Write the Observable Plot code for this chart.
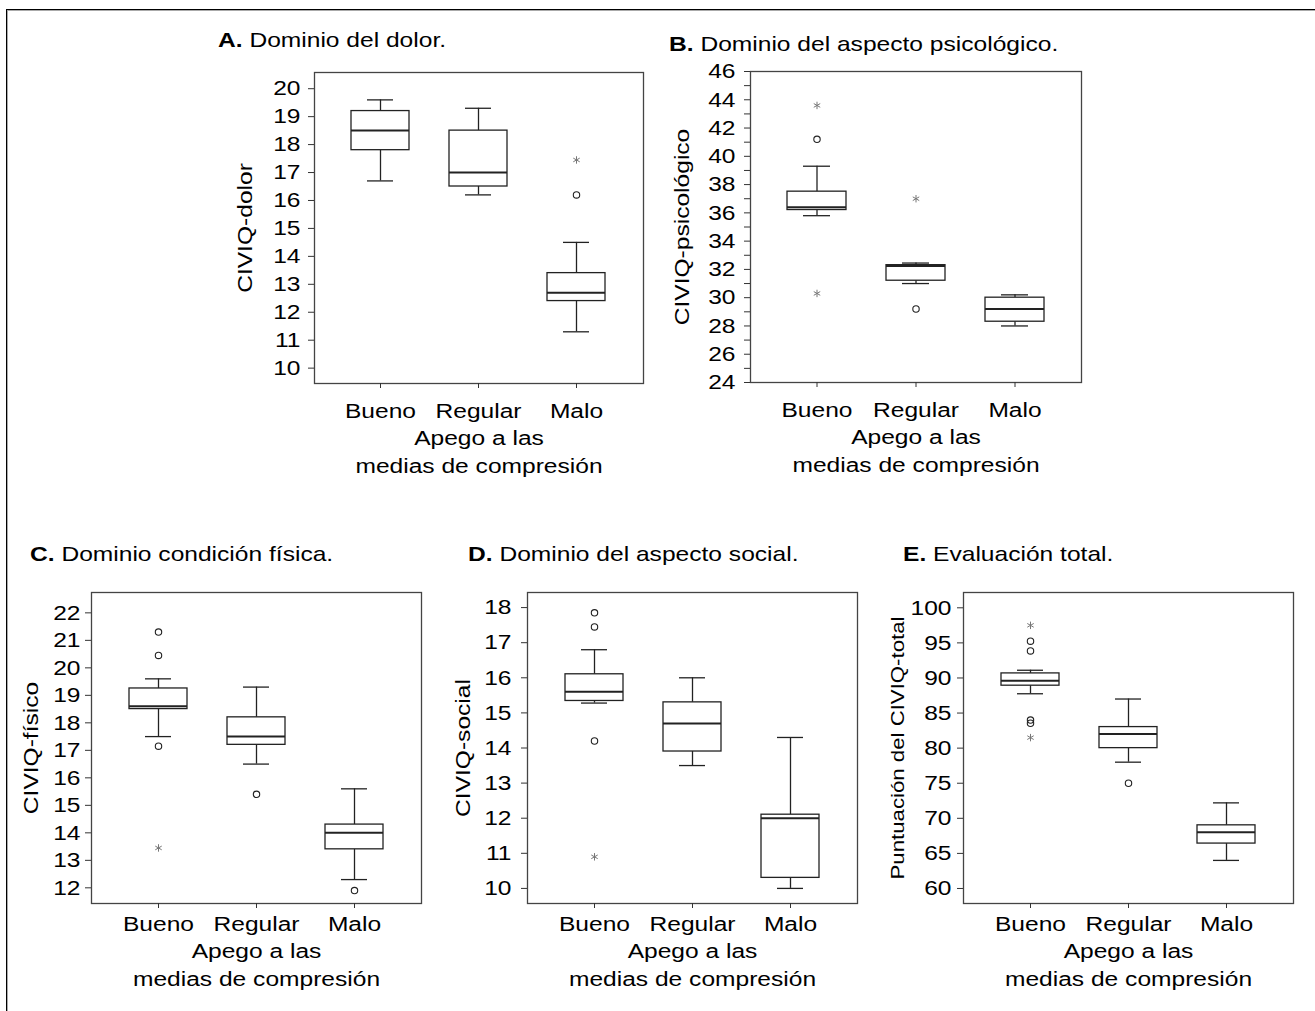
<!DOCTYPE html>
<html><head><meta charset="utf-8">
<script src="https://cdn.jsdelivr.net/npm/d3@7"></script>
<script src="https://cdn.jsdelivr.net/npm/@observablehq/plot@0.6"></script>
<style>
body{margin:0;background:#fff;}
#root{position:relative;width:1315px;height:1011px;overflow:hidden;font-family:"Liberation Sans",Arial,sans-serif;color:#000;background:#fff;}
.title{position:absolute;font-size:21px;line-height:21px;white-space:nowrap;transform:scaleX(1.17);transform-origin:0 0;}
.panel{position:absolute;}
#border{position:absolute;left:6px;top:9px;width:1400px;height:1100px;border-top:1.4px solid #000;border-left:1.4px solid #000;box-shadow:inset 1px 1px 0 #aaa;}
</style></head><body><div id="root"><div id="border"></div></div>
<script>
const categories = ["Bueno", "Regular", "Malo"];
// per category: [whisker low, Q1, median, Q3, whisker high]
const dolorStats = [[16.7, 17.8, 18.5, 19.2, 19.6], [16.2, 16.5, 17.0, 18.5, 19.3], [11.3, 12.4, 12.7, 13.4, 14.5]];
const dolorCircles = [["Malo", 16.2]];
const dolorStars = [["Malo", 17.45]];

const psicoStats = [[35.8, 36.2, 36.4, 37.5, 39.3], [31.0, 31.2, 32.25, 32.3, 32.45], [28.0, 28.3, 29.2, 30.0, 30.2]];
const psicoCircles = [["Bueno", 41.2], ["Regular", 29.2]];
const psicoStars = [["Bueno", 43.6], ["Bueno", 30.3], ["Regular", 37.0]];

const fisicoStats = [[17.5, 18.5, 18.6, 19.25, 19.6], [16.5, 17.2, 17.5, 18.2, 19.3], [12.3, 13.4, 14.0, 14.3, 15.6]];
const fisicoCircles = [["Bueno", 21.3], ["Bueno", 20.45], ["Bueno", 17.15], ["Regular", 15.4], ["Malo", 11.9]];
const fisicoStars = [["Bueno", 13.45]];

const socialStats = [[15.28, 15.34, 15.6, 16.1, 16.8], [13.5, 13.9, 14.7, 15.3, 16.0], [10.0, 10.3, 12.0, 12.1, 14.3]];
const socialCircles = [["Bueno", 17.85], ["Bueno", 17.45], ["Bueno", 14.2]];
const socialStars = [["Bueno", 10.9]];

const totalStats = [[87.75, 88.9, 89.6, 90.65, 91.1], [78.0, 80.0, 82.0, 83.0, 87.0], [64.0, 66.4, 68.0, 69.0, 72.2]];
const totalCircles = [["Bueno", 95.25], ["Bueno", 93.85], ["Bueno", 84.0], ["Bueno", 83.55], ["Regular", 75.0]];
const totalStars = [["Bueno", 97.5], ["Bueno", 81.5]];

const titlesBold = ["A.", "B.", "C.", "D.", "E."];
const titles = ["Dominio del dolor.", "Dominio del aspecto psicológico.", "Dominio condición física.", "Dominio del aspecto social.", "Evaluación total."];
const yLabels = ["CIVIQ-dolor", "CIVIQ-psicológico", "CIVIQ-físico", "CIVIQ-social", "Puntuación del CIVIQ-total"];
const xLabel = "Apego a las\nmedias de compresión";

const yTicksDolor = d3.range(10, 21, 1);
const yTicksPsico = d3.range(24, 47, 1);
const yTicksFisico = d3.range(12, 23, 1);
const yTicksSocial = d3.range(10, 19, 1);
const yTicksTotal = d3.range(60, 101, 5);

const SX = 1.17;
const root = document.getElementById("root");

function stretch(svg) {
  svg.querySelectorAll("text").forEach(t => {
    const x = +(t.getAttribute("x") || 0);
    const tr = t.getAttribute("transform") || "";
    t.setAttribute("transform", `${tr} translate(${x},0) scale(${SX},1) translate(${-x},0)`);
  });
}

const panels = [
  {stats: dolorStats, circles: dolorCircles, stars: dolorStars, ticks: yTicksDolor, fmt: d => d,
   domain: [9.45, 20.58], L: 314, R: 643, T: 72, B: 383, tp: 8, lx: -69.5, lfs: 21,
   catPad: 15, xdy: 41, tx: 218, ty: 28.9},
  {stats: psicoStats, circles: psicoCircles, stars: psicoStars, ticks: yTicksPsico, fmt: d => d % 2 ? "" : d,
   domain: [24, 46], L: 750, R: 1081, T: 71, B: 382, tp: 9, lx: -68.5, lfs: 21,
   catPad: 15, xdy: 41, tx: 669, ty: 33.2},
  {stats: fisicoStats, circles: fisicoCircles, stars: fisicoStars, ticks: yTicksFisico, fmt: d => d,
   domain: [11.43, 22.74], L: 91, R: 421, T: 592, B: 903, tp: 5, lx: -60, lfs: 21,
   catPad: 8, xdy: 34, tx: 30, ty: 543.2},
  {stats: socialStats, circles: socialCircles, stars: socialStars, ticks: yTicksSocial, fmt: d => d,
   domain: [9.57, 18.43], L: 527, R: 857, T: 592, B: 903, tp: 10, lx: -64.5, lfs: 21,
   catPad: 8, xdy: 34, tx: 468, ty: 543.2},
  {stats: totalStats, circles: totalCircles, stars: totalStars, ticks: yTicksTotal, fmt: d => d,
   domain: [57.86, 102.18], L: 963, R: 1293, T: 592, B: 903, tp: 6, lx: -65.7, lfs: 19,
   catPad: 8, xdy: 34, tx: 903, ty: 543.2}
];

panels.forEach((p, i) => {
  const rows = p.stats.map((s, j) => ({cat: categories[j], lo: s[0], q1: s[1], med: s[2], q3: s[3], hi: s[4]}));
  const ml = 100, mt = 10, mr = 10, mb = 100;
  const box = {stroke: "#222", strokeWidth: 1.3};
  const chart = Plot.plot({
    width: p.R - p.L + ml + mr,
    height: p.B - p.T + mt + mb,
    marginLeft: ml, marginTop: mt, marginRight: mr, marginBottom: mb,
    style: {fontFamily: "'Liberation Sans', Arial, sans-serif", fontSize: "21px", color: "#000", background: "transparent", overflow: "visible"},
    x: {type: "band", domain: categories, paddingInner: 0.404, paddingOuter: 0.372, axis: null},
    y: {domain: p.domain, nice: false, axis: null},
    marks: [
      Plot.frame({stroke: "#444", strokeWidth: 1.3}),
      Plot.ruleX(rows, {x: "cat", y1: "lo", y2: "q1", ...box}),
      Plot.ruleX(rows, {x: "cat", y1: "q3", y2: "hi", ...box}),
      Plot.barY(rows, {x: "cat", y1: "q1", y2: "q3", fill: "white", ...box}),
      Plot.tickY(rows, {x: "cat", y: "med", stroke: "#222", strokeWidth: 2}),
      Plot.tickY(rows, {x: "cat", y: "lo", insetLeft: 16, insetRight: 16, ...box}),
      Plot.tickY(rows, {x: "cat", y: "hi", insetLeft: 16, insetRight: 16, ...box}),
      Plot.dot(p.circles, {x: d => d[0], y: d => d[1], r: 3.2, stroke: "#222", strokeWidth: 1.1, fill: "none"}),
      Plot.dot(p.stars, {x: d => d[0], y: d => d[1], symbol: "asterisk", r: 3.5, stroke: "#777", strokeWidth: 1}),
      Plot.axisY({ticks: p.ticks, tickFormat: p.fmt, tickSize: 6, tickPadding: p.tp, label: null, fontSize: 21, stroke: "#333", fill: "#000"}),
      Plot.axisX({tickSize: 5, tickPadding: p.catPad, label: null, fontSize: 21, stroke: "#333", fill: "#000"}),
      Plot.text([yLabels[i]], {text: d => d, frameAnchor: "left", dx: p.lx, rotate: -90, textAnchor: "middle", lineAnchor: "middle", fontSize: p.lfs, fill: "#000"}),
      Plot.text([xLabel], {text: d => d, frameAnchor: "bottom", dy: p.xdy, lineAnchor: "top", lineHeight: 1.35, textAnchor: "middle", fontSize: 21, fill: "#000"})
    ]
  });
  stretch(chart);
  const wrap = document.createElement("div");
  wrap.className = "panel";
  wrap.style.left = (p.L - ml) + "px";
  wrap.style.top = (p.T - mt) + "px";
  wrap.appendChild(chart);
  root.appendChild(wrap);

  const t = document.createElement("div");
  t.className = "title";
  t.style.left = p.tx + "px";
  t.style.top = p.ty + "px";
  const b = document.createElement("b");
  b.textContent = titlesBold[i];
  t.appendChild(b);
  t.appendChild(document.createTextNode(" " + titles[i]));
  root.appendChild(t);
});
</script>
</body></html>
